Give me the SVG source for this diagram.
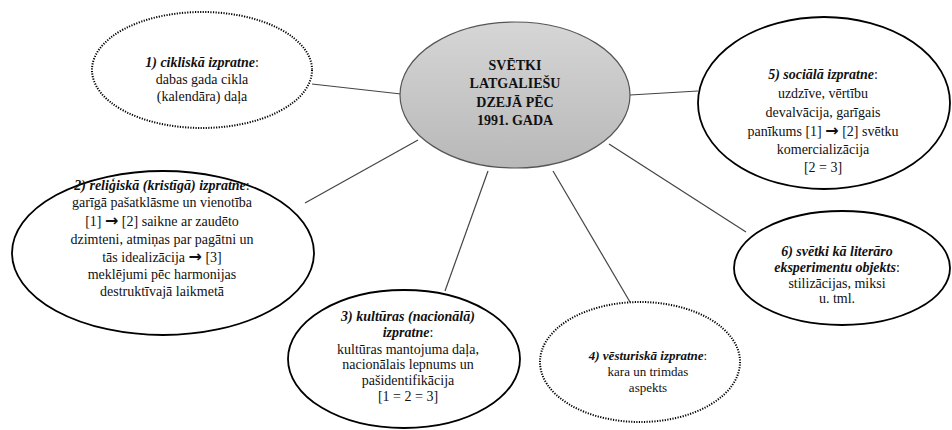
<svg xmlns="http://www.w3.org/2000/svg" width="952" height="430" viewBox="0 0 952 430">
<style>
text{font-family:"Liberation Serif","Times New Roman",serif;font-size:14px;fill:#111;text-anchor:middle}
.bi{font-weight:bold;font-style:italic}
.b{font-weight:bold}
.ar{font-family:"DejaVu Sans",sans-serif;font-weight:bold;font-size:16px}
.sm{font-size:13px}
.solid{fill:#fff;stroke:#000;stroke-width:1.8}
.dot{fill:#fff;stroke:#000;stroke-width:2;stroke-dasharray:1.2 1.4}
.conn line{stroke:#444;stroke-width:1.2}
</style>
<defs>
<linearGradient id="g" x1="0" y1="0" x2="0" y2="1">
<stop offset="0" stop-color="#d6d6d6"/>
<stop offset="1" stop-color="#b8b8b8"/>
</linearGradient>
</defs>
<g class="conn">
<line x1="312" y1="84" x2="401" y2="94"/>
<line x1="305" y1="203" x2="418" y2="140"/>
<line x1="445" y1="291" x2="488" y2="171"/>
<line x1="553" y1="171" x2="630" y2="302"/>
<line x1="630" y1="95" x2="698" y2="91"/>
<line x1="609" y1="144" x2="746" y2="232"/>
</g>
<g id="n1">
<ellipse class="dot" cx="202" cy="70" rx="110" ry="58"/>
<text x="202" y="67"><tspan class="bi">1) cikliskā izpratne</tspan>:</text>
<text x="202" y="84">dabas gada cikla</text>
<text x="202" y="101">(kalendāra) daļa</text>
</g>
<g id="center">
<ellipse cx="515" cy="95" rx="115" ry="73" fill="url(#g)" stroke="#555" stroke-width="1.2"/>
<text class="b" x="515" y="70">SVĒTKI</text>
<text class="b" x="515" y="88">LATGALIEŠU</text>
<text class="b" x="515" y="107">DZEJĀ PĒC</text>
<text class="b" x="515" y="125">1991. GADA</text>
</g>
<g id="n5">
<ellipse class="solid" cx="824" cy="103" rx="126" ry="86"/>
<text x="823" y="79"><tspan class="bi">5) sociālā izpratne</tspan>:</text>
<text x="823" y="98">uzdzīve, vērtību</text>
<text x="823" y="117">devalvācija, garīgais</text>
<text x="823" y="136">panīkums [1] <tspan class="ar">→</tspan> [2] svētku</text>
<text x="823" y="154">komercializācija</text>
<text x="823" y="172">[2 = 3]</text>
</g>
<g id="n2">
<ellipse class="solid" cx="163" cy="253" rx="151" ry="82"/>
<text x="162" y="190"><tspan class="bi">2) reliģiskā (kristīgā) izpratne</tspan>:</text>
<text x="162" y="207">garīgā pašatklāsme un vienotība</text>
<text x="162" y="226">[1] <tspan class="ar">→</tspan> [2] saikne ar zaudēto</text>
<text x="162" y="244">dzimteni, atmiņas par pagātni un</text>
<text x="162" y="262">tās idealizācija <tspan class="ar">→</tspan> [3]</text>
<text x="162" y="279">meklējumi pēc harmonijas</text>
<text x="162" y="296">destruktīvajā laikmetā</text>
</g>
<g id="n3">
<ellipse class="solid" cx="404" cy="359" rx="116" ry="69"/>
<text x="408" y="321" class="bi">3) kultūras (nacionālā)</text>
<text x="408" y="337"><tspan class="bi">izpratne</tspan>:</text>
<text x="408" y="354">kultūras mantojuma daļa,</text>
<text x="408" y="369">nacionālais lepnums un</text>
<text x="408" y="385">pašidentifikācija</text>
<text x="408" y="401">[1 = 2 = 3]</text>
</g>
<g id="n4">
<ellipse class="dot" cx="640" cy="362" rx="100" ry="60"/>
<text class="sm" x="648" y="360"><tspan class="bi">4) vēsturiskā izpratne</tspan>:</text>
<text class="sm" x="648" y="376">kara un trimdas</text>
<text class="sm" x="648" y="392">aspekts</text>
</g>
<g id="n6">
<ellipse class="solid" cx="842" cy="268" rx="108" ry="57"/>
<text x="837" y="256" class="bi">6) svētki kā literāro</text>
<text x="837" y="272"><tspan class="bi">eksperimentu objekts</tspan>:</text>
<text x="837" y="288">stilizācijas, miksi</text>
<text x="837" y="303">u. tml.</text>
</g>
</svg>
